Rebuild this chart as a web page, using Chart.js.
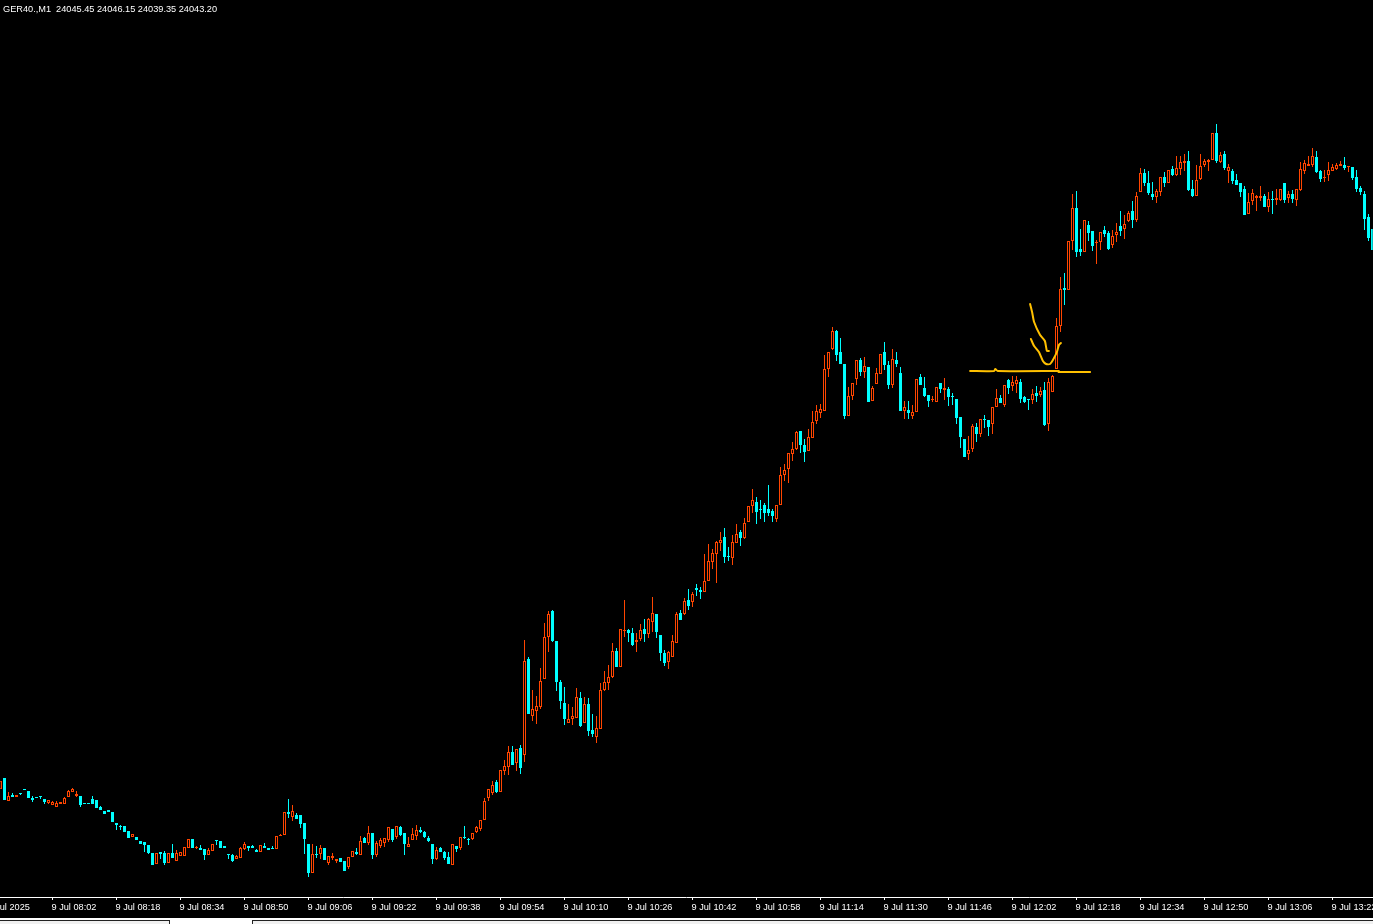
<!DOCTYPE html>
<html>
<head>
<meta charset="utf-8">
<style>
html,body{margin:0;padding:0;background:#000;overflow:hidden;width:1373px;height:924px}
#wrap{position:relative;width:1373px;height:924px;overflow:hidden;background:#000}
canvas{position:absolute;left:0;top:0}
#head{position:absolute;left:3px;top:3px;color:#fff;font:9.2px/12px "Liberation Sans",sans-serif;white-space:pre}
.s{position:absolute}
</style>
<script src="https://cdn.jsdelivr.net/npm/chart.js@4"></script>
</head>
<body>
<div id="wrap">
<canvas id="c" width="1373" height="919"></canvas>
<div id="head">GER40.,M1  24045.45 24046.15 24039.35 24043.20</div>
<div class="s" style="left:0;top:918px;width:1373px;height:6px;background:#fff"></div>
<div class="s" style="left:0;top:920px;width:170px;height:4px;background:#f0f0f0;border-top:1px solid #222;border-right:1px solid #222;box-sizing:border-box"></div>
<div class="s" style="left:252px;top:920px;width:1121px;height:4px;background:#f0f0f0;border-top:1px solid #222;border-left:1px solid #222;box-sizing:border-box"></div>
</div>
<script>
const opens=[24111,24122,24099,24105,24103,24107,24111,24109,24102,24103,24104,24101,24097,24095,24093,24096,24096,24103,24108,24104,24104,24097,24097,24101,24100,24093,24089,24090,24088,24077,24074,24074,24069,24063,24063,24059,24058,24055,24047,24036,24048,24047,24037,24047,24039,24044,24044,24052,24061,24052,24052,24051,24045,24049,24060,24059,24054,24046,24045,24041,24042,24051,24054,24054,24050,24048,24054,24052,24052,24051,24064,24065,24088,24083,24085,24085,24077,24056,24027,24046,24046,24052,24037,24042,24039,24042,24039,24033,24043,24048,24045,24062,24057,24067,24045,24054,24057,24060,24071,24063,24073,24067,24053,24060,24064,24070,24068,24062,24056,24041,24052,24048,24043,24035,24054,24052,24063,24061,24061,24068,24071,24080,24102,24107,24118,24108,24129,24133,24148,24137,24152,24145,24241,24184,24189,24193,24221,24263,24289,24259,24218,24197,24177,24181,24182,24202,24177,24196,24170,24163,24171,24210,24217,24223,24249,24233,24269,24270,24267,24258,24261,24271,24266,24278,24286,24265,24247,24238,24243,24257,24287,24286,24300,24298,24312,24310,24308,24319,24338,24346,24357,24363,24344,24342,24357,24368,24362,24378,24394,24398,24391,24395,24391,24389,24381,24395,24425,24431,24446,24451,24469,24455,24449,24462,24479,24487,24489,24531,24551,24569,24548,24536,24484,24504,24521,24540,24528,24533,24499,24516,24526,24548,24535,24515,24540,24527,24489,24490,24484,24488,24523,24512,24505,24500,24498,24517,24510,24511,24504,24501,24483,24461,24446,24451,24473,24466,24481,24480,24476,24493,24502,24495,24520,24514,24516,24518,24503,24501,24500,24507,24505,24510,24476,24508,24531,24574,24612,24610,24659,24692,24651,24648,24675,24669,24657,24658,24670,24667,24655,24665,24674,24671,24679,24689,24680,24708,24727,24717,24706,24703,24708,24723,24717,24731,24725,24731,24737,24739,24711,24704,24721,24735,24738,24740,24767,24738,24746,24729,24729,24720,24717,24711,24686,24699,24702,24702,24704,24693,24701,24700,24700,24717,24702,24706,24700,24710,24729,24734,24735,24743,24729,24722,24725,24729,24731,24734,24735,24733,24733,24723,24712,24706,24683,24671];
const highs=[24119,24122,24108,24107,24105,24107,24111,24109,24104,24103,24104,24101,24100,24099,24099,24098,24103,24110,24112,24109,24104,24097,24097,24104,24100,24094,24089,24090,24088,24077,24075,24074,24069,24066,24063,24059,24058,24055,24047,24047,24048,24049,24047,24056,24050,24048,24053,24061,24061,24054,24055,24051,24052,24056,24060,24059,24054,24046,24046,24045,24053,24058,24054,24055,24051,24055,24057,24052,24054,24064,24066,24088,24101,24095,24087,24085,24077,24056,24056,24054,24055,24052,24044,24047,24041,24042,24039,24043,24049,24052,24064,24063,24074,24067,24059,24062,24062,24073,24071,24074,24074,24067,24063,24072,24075,24073,24069,24064,24056,24053,24053,24049,24048,24056,24054,24063,24074,24062,24067,24074,24080,24102,24111,24119,24120,24130,24140,24154,24154,24151,24155,24260,24243,24210,24204,24232,24277,24289,24290,24259,24220,24213,24196,24193,24212,24208,24203,24202,24186,24184,24217,24229,24235,24257,24252,24271,24300,24271,24272,24267,24276,24281,24282,24303,24286,24265,24250,24249,24265,24288,24290,24302,24311,24308,24316,24313,24346,24356,24351,24359,24368,24372,24353,24365,24376,24370,24382,24394,24411,24403,24400,24397,24415,24391,24395,24433,24436,24447,24458,24469,24469,24461,24471,24489,24495,24496,24545,24548,24573,24570,24562,24536,24513,24517,24540,24542,24543,24533,24514,24532,24546,24558,24539,24551,24548,24533,24499,24499,24495,24521,24526,24523,24505,24504,24513,24517,24522,24513,24507,24501,24483,24461,24464,24476,24477,24481,24485,24480,24493,24511,24505,24515,24521,24524,24524,24521,24504,24501,24511,24514,24513,24518,24522,24525,24582,24623,24627,24659,24706,24709,24671,24680,24679,24669,24660,24668,24674,24669,24670,24677,24689,24685,24689,24699,24708,24732,24731,24729,24718,24711,24723,24728,24730,24734,24744,24744,24746,24749,24720,24735,24746,24741,24741,24767,24776,24748,24749,24736,24731,24726,24717,24714,24707,24711,24705,24714,24706,24708,24709,24711,24711,24717,24709,24710,24711,24738,24740,24744,24752,24749,24730,24730,24738,24736,24737,24739,24743,24734,24733,24730,24714,24709,24686,24671];
const lows=[24111,24100,24099,24103,24103,24105,24110,24102,24098,24102,24101,24096,24096,24095,24093,24096,24096,24103,24108,24103,24093,24096,24096,24096,24092,24090,24086,24088,24078,24070,24070,24068,24062,24063,24060,24056,24048,24046,24035,24036,24041,24035,24037,24042,24039,24044,24044,24052,24052,24051,24050,24040,24045,24049,24055,24052,24052,24041,24038,24041,24042,24050,24049,24052,24048,24048,24052,24050,24051,24051,24064,24065,24082,24079,24081,24072,24046,24023,24027,24042,24041,24040,24035,24040,24037,24038,24029,24031,24043,24045,24045,24057,24055,24041,24043,24052,24053,24058,24058,24061,24064,24045,24053,24060,24060,24067,24062,24058,24036,24040,24048,24040,24036,24035,24048,24050,24061,24055,24060,24067,24069,24080,24099,24105,24107,24108,24125,24125,24135,24129,24126,24138,24186,24179,24176,24191,24221,24248,24258,24209,24191,24175,24177,24175,24182,24173,24177,24164,24163,24157,24171,24209,24210,24222,24233,24233,24263,24258,24254,24248,24259,24258,24262,24268,24262,24239,24234,24231,24243,24257,24280,24285,24290,24293,24304,24301,24308,24319,24331,24317,24349,24337,24339,24335,24357,24354,24361,24378,24387,24376,24381,24378,24384,24378,24378,24395,24419,24417,24439,24450,24447,24438,24449,24462,24476,24482,24489,24523,24550,24539,24536,24481,24484,24500,24515,24524,24522,24498,24499,24516,24526,24530,24511,24512,24533,24489,24481,24481,24481,24488,24515,24503,24493,24498,24498,24507,24500,24494,24495,24476,24452,24443,24440,24448,24458,24463,24472,24464,24466,24493,24497,24493,24506,24509,24507,24497,24497,24490,24496,24498,24503,24474,24469,24508,24531,24568,24595,24610,24650,24643,24644,24648,24659,24649,24636,24650,24663,24650,24652,24658,24664,24661,24678,24672,24678,24708,24714,24705,24700,24697,24704,24713,24717,24724,24724,24725,24729,24709,24703,24704,24720,24733,24729,24740,24737,24737,24730,24717,24716,24715,24703,24685,24686,24695,24689,24699,24693,24688,24686,24695,24699,24697,24697,24697,24694,24709,24726,24734,24733,24727,24718,24718,24719,24729,24730,24734,24730,24728,24720,24708,24705,24670,24659,24650];
const closes=[24119,24100,24104,24103,24105,24106,24110,24102,24100,24102,24103,24098,24100,24098,24097,24098,24102,24109,24111,24106,24095,24096,24096,24096,24092,24090,24086,24088,24078,24075,24073,24068,24062,24066,24060,24056,24055,24047,24035,24047,24046,24037,24047,24042,24047,24048,24053,24061,24052,24053,24050,24045,24050,24056,24059,24052,24052,24045,24039,24044,24052,24056,24052,24052,24048,24055,24052,24050,24051,24064,24065,24088,24086,24089,24081,24076,24061,24027,24046,24045,24052,24040,24044,24044,24041,24038,24029,24043,24049,24046,24059,24057,24067,24045,24057,24060,24062,24073,24060,24074,24065,24056,24056,24066,24070,24068,24063,24059,24041,24050,24048,24042,24036,24056,24051,24063,24062,24060,24067,24073,24080,24099,24111,24115,24108,24130,24134,24148,24135,24151,24132,24239,24186,24191,24194,24219,24263,24286,24259,24218,24199,24181,24181,24184,24203,24174,24196,24169,24166,24172,24210,24218,24223,24249,24233,24271,24270,24267,24255,24260,24270,24266,24281,24287,24268,24247,24237,24248,24259,24286,24280,24299,24294,24306,24310,24308,24319,24339,24347,24358,24360,24343,24343,24358,24366,24362,24377,24394,24400,24388,24390,24387,24387,24384,24395,24425,24430,24447,24451,24468,24455,24448,24463,24478,24489,24491,24531,24548,24569,24545,24536,24484,24504,24517,24540,24528,24534,24498,24512,24527,24546,24535,24515,24541,24536,24489,24493,24487,24488,24521,24515,24504,24499,24501,24513,24511,24512,24503,24503,24482,24463,24443,24450,24474,24466,24481,24480,24473,24493,24502,24497,24515,24512,24518,24520,24501,24498,24500,24506,24504,24509,24475,24518,24524,24574,24611,24610,24659,24692,24648,24648,24680,24667,24654,24658,24668,24666,24651,24664,24668,24669,24676,24687,24680,24704,24727,24717,24707,24703,24709,24723,24717,24730,24725,24732,24738,24739,24710,24704,24720,24734,24739,24740,24767,24739,24745,24732,24733,24719,24715,24708,24685,24698,24707,24704,24704,24693,24701,24700,24702,24711,24700,24706,24701,24711,24731,24737,24736,24744,24728,24721,24723,24730,24733,24735,24736,24732,24734,24722,24711,24708,24681,24662,24650];
const tickLabels=["9 Jul 08:02","9 Jul 08:18","9 Jul 08:34","9 Jul 08:50","9 Jul 09:06","9 Jul 09:22","9 Jul 09:38","9 Jul 09:54","9 Jul 10:10","9 Jul 10:26","9 Jul 10:42","9 Jul 10:58","9 Jul 11:14","9 Jul 11:30","9 Jul 11:46","9 Jul 12:02","9 Jul 12:18","9 Jul 12:34","9 Jul 12:50","9 Jul 13:06","9 Jul 13:22"];
const firstDateLabel="9 Jul 2025";
const firstTickBar=13, tickEvery=16;
const lineBarsA=[242.4,248.4,248.7,249.3,264.6], linePricesA=[24529,24529,24531,24529,24529];
const lineBarsB=[264.5,272.4], linePricesB=[24528,24528];
const arrowBars=[257.4,257.9,258.4,259.9,261.1,261.6,262.1], arrowPrices=[24596,24588,24578,24565,24559,24549,24549];
const curveBars=[257.6,258.4,259.6,260.6,261.4,262.4,263.1,264.1,264.6,265.1], curvePrices=[24561,24554,24548,24539,24536,24536,24540,24548,24555,24557];

const UP="#ff4500", DOWN="#00ffff", INK="#ffc000", TICK_FONT='9.2px "Liberation Sans",sans-serif';
const cats=opens.map((_,i)=>i);
const col=opens.map((o,i)=>closes[i]>=o?UP:DOWN);
const fill=opens.map((o,i)=>closes[i]>=o?"#000":DOWN);
const zip=(xs,ys)=>xs.map((x,i)=>({x,y:ys[i]}));
const ink=(xs,ys)=>({type:"line",xAxisID:"xi",order:0,data:zip(xs,ys),borderColor:INK,borderWidth:2,pointRadius:0,tension:0.2,fill:false,borderCapStyle:"round",borderJoinStyle:"round"});
const labelFor=i=>{const k=(i-firstTickBar)/tickEvery;return Number.isInteger(k)&&k>=0&&k<tickLabels.length?tickLabels[k]:null};

new Chart(document.getElementById("c"),{
  type:"bar",
  data:{labels:cats,datasets:[
    ink(lineBarsA,linePricesA),ink(lineBarsB,linePricesB),ink(arrowBars,arrowPrices),ink(curveBars,curvePrices),
    {order:1,grouped:false,barThickness:3,inflateAmount:0,borderSkipped:false,borderWidth:1,
     data:opens.map((o,i)=>[o,closes[i]]),backgroundColor:fill,borderColor:col},
    {order:2,grouped:false,barThickness:1,inflateAmount:0,borderWidth:0,
     data:lows.map((l,i)=>[l,highs[i]]),backgroundColor:col}
  ]},
  options:{
    responsive:false,animation:false,devicePixelRatio:1,events:[],
    layout:{padding:{left:0.5,right:0.5,top:0,bottom:0}},
    plugins:{legend:{display:false},tooltip:{enabled:false},title:{display:false}},
    scales:{
      x:{type:"category",offset:false,
         afterFit:s=>{s.height=22;s.paddingRight=0;s.paddingLeft=0},
         border:{color:"#fff",width:1},
         grid:{offset:false,drawOnChartArea:false,drawTicks:true,tickLength:3,tickColor:"#fff",tickWidth:1},
         ticks:{autoSkip:false,maxRotation:0,minRotation:0,align:"start",color:"#fff",padding:2,labelOffset:-1,font:{family:'"Liberation Sans",sans-serif',size:9.2},
                callback:(v,i)=>labelFor(i)}},
      xi:{type:"linear",display:false,offset:false,min:0,max:opens.length-1},
      y:{display:false,min:24003,max:24900}
    }
  },
  plugins:[{id:"firstDate",afterDraw(chart){
    const c=chart.ctx,s=chart.scales.x;
    c.save();c.font=TICK_FONT;c.fillStyle="#fff";c.textBaseline="middle";c.textAlign="left";
    c.fillText(firstDateLabel,s.getPixelForValue(firstTickBar)-tickEvery*4-1,907);
    c.restore();
  }}]
});
</script>
</body>
</html>
